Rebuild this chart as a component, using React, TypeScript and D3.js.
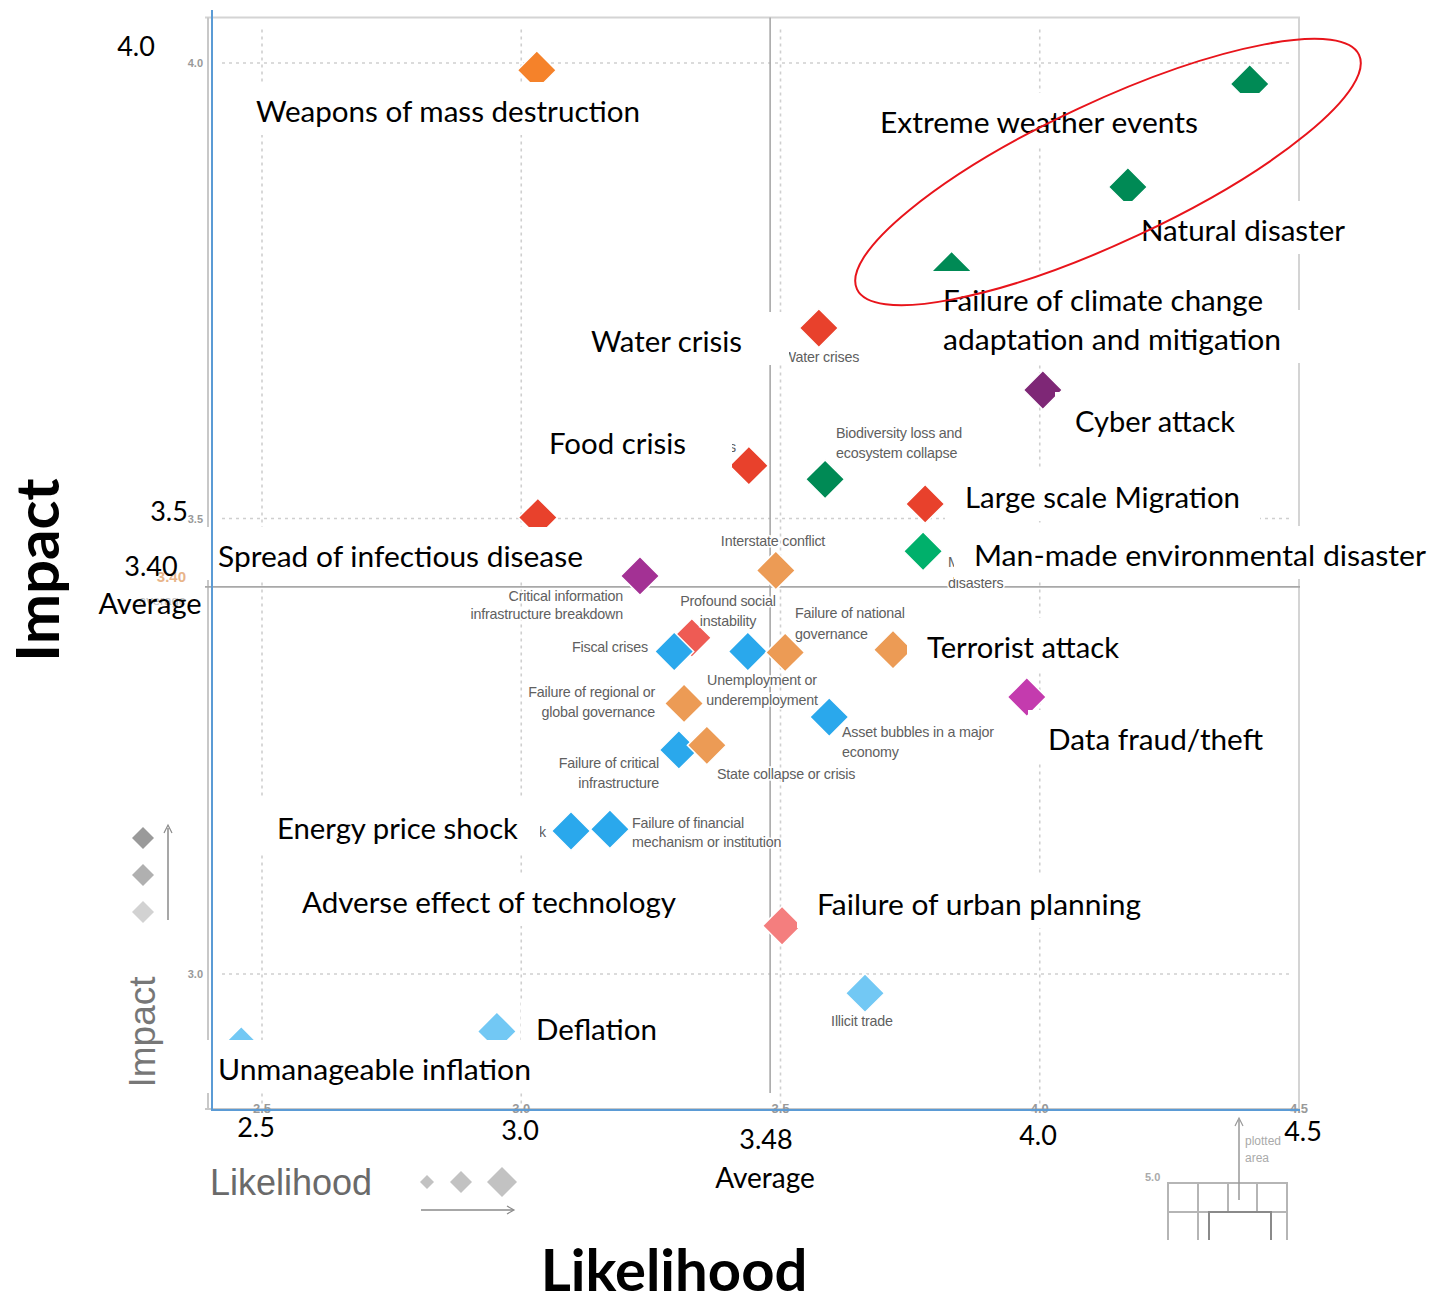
import React from "react";
import * as d3 from "d3";

// ---------- DATA ----------
const riskNames = [
  "Weapons of mass destruction", "Extreme weather events", "Natural disasters",
  "Failure of climate-change mitigation and adaptation", "Water crises", "Cyber attacks",
  "Food crises", "Biodiversity loss and ecosystem collapse", "Large-scale involuntary migration",
  "Spread of infectious diseases", "Man-made environmental disasters", "Interstate conflict",
  "Critical information infrastructure breakdown", "Profound social instability", "Fiscal crises",
  "Unemployment or underemployment", "Failure of national governance", "Terrorist attacks",
  "Data fraud or theft", "Failure of regional or global governance", "Asset bubbles in a major economy",
  "Failure of critical infrastructure", "State collapse or crisis", "Energy price shock",
  "Failure of financial mechanism or institution", "Adverse consequences of technological advances",
  "Failure of urban planning", "Illicit trade", "Deflation", "Unmanageable inflation",
];
const likelihood = [
  3.03, 4.405, 4.17, 3.83, 3.574, 4.006, 3.439, 3.586, 3.779, 3.032, 3.775, 3.491, 3.229, 3.329, 3.295,
  3.437, 3.509, 3.717, 3.975, 3.314, 3.594, 3.304, 3.358, 3.096, 3.171, 3.327, 3.503, 3.663, 2.953, 2.46,
];
const impact = [
  3.992, 3.977, 3.864, 3.772, 3.709, 3.641, 3.558, 3.543, 3.516, 3.501, 3.464, 3.443, 3.437, 3.369, 3.354,
  3.354, 3.353, 3.356, 3.304, 3.297, 3.282, 3.246, 3.251, 3.157, 3.159, 3.08, 3.053, 2.979, 2.937, 2.921,
];
const riskGroup = [
  "geoA", "env", "env", "env", "soc", "techA", "soc", "env", "soc", "soc", "envB", "geo", "techB", "socB", "eco",
  "eco", "geo", "geo", "techC", "geo", "eco", "eco", "geo", "eco", "eco", "techC", "socC", "ecoB", "ecoB", "ecoB",
];
const groupColors: Record<string, string> = {
  geoA: "#F5822A", geo: "#EC9B55", env: "#008A55", envB: "#00B06B", soc: "#E8412C", socB: "#EE5B54",
  socC: "#F47E7E", techA: "#7E2776", techB: "#A33194", techC: "#C43BAE", eco: "#2AA8EC", ecoB: "#72C8F4",
};
const gridTicks = [2.5, 3.0, 3.5, 4.0, 4.5];
const impactTicks = [3.0, 3.5, 4.0];
const avgLikelihood = 3.48;
const avgImpactLine = 3.425;
const xTickLabels = ["2.5", "3.0", "3.48", "4.0", "4.5"];
const yTickLabels = ["4.0", "3.5", "3.40", "3.0"];

// original chart's small grey captions (layout)
const smallCaptions: [string, number, number, string][] = [
  ["Water crises", 821, 362, "middle"],
  ["Food crises", 736, 452, "end"],
  ["Biodiversity loss and", 836, 438, "start"],
  ["ecosystem collapse", 836, 458, "start"],
  ["Man-made environmental", 948, 567, "start"],
  ["disasters", 948, 588, "start"],
  ["Interstate conflict", 773, 546, "middle"],
  ["Critical information", 623, 601, "end"],
  ["infrastructure breakdown", 623, 619, "end"],
  ["Profound social", 728, 606, "middle"],
  ["instability", 728, 626, "middle"],
  ["Failure of national", 795, 618, "start"],
  ["governance", 795, 639, "start"],
  ["Fiscal crises", 648, 652, "end"],
  ["Unemployment or", 762, 685, "middle"],
  ["underemployment", 762, 705, "middle"],
  ["Failure of regional or", 655, 697, "end"],
  ["global governance", 655, 717, "end"],
  ["Asset bubbles in a major", 842, 737, "start"],
  ["economy", 842, 757, "start"],
  ["Failure of critical", 659, 768, "end"],
  ["infrastructure", 659, 788, "end"],
  ["State collapse or crisis", 717, 779, "start"],
  ["Energy price shock", 546, 837, "end"],
  ["Failure of financial", 632, 828, "start"],
  ["mechanism or institution", 632, 847, "start"],
  ["Illicit trade", 862, 1026, "middle"],
];

// overlay labels: text, left, baseline, width, padLeft, padRight
const overlayLabels: [string, number, number, number, number, number][] = [
  ["Weapons of mass destruction", 256, 122, 384, 20, 20],
  ["Extreme weather events", 880, 133, 318, 20, 85],
  ["Natural disaster", 1141, 241, 204, 20, 20],
  ["Failure of climate change", 943, 311, 320, 20, 20],
  ["adaptation and mitigation", 943, 350, 338, 20, 20],
  ["Water crisis", 591, 352, 151, 20, 47],
  ["Cyber attack", 1075, 432, 160, 20, 20],
  ["Food crisis", 549, 454, 137, 20, 46],
  ["Large scale Migration", 965, 508, 275, 20, 20],
  ["Spread of infectious disease", 218, 567, 365, 20, 20],
  ["Man-made environmental disaster", 974, 566, 452, 20, 5],
  ["Terrorist attack", 927, 658, 192, 20, 20],
  ["Data fraud/theft", 1048, 750, 215, 20, 20],
  ["Energy price shock", 277, 839, 241, 20, 22],
  ["Adverse effect of technology", 302, 913, 374, 20, 40],
  ["Failure of urban planning", 817, 915, 324, 20, 20],
  ["Deflation", 536, 1040, 121, 15, 20],
  ["Unmanageable inflation", 218, 1080, 313, 20, 20],
];

const W = 1431;
const H = 1299;
const FONT_LABEL = "Lato, 'Open Sans', sans-serif";
const FONT_SMALL = "'Liberation Sans', Arial, sans-serif";

export default function App() {
  const x = d3.scaleLinear().domain([2.5, 4.5]).range([262, 1299]);
  const y = d3.scaleLinear().domain([3.0, 4.0]).range([974, 63]);
  const top = y(4.05);
  const bottom = y(2.853);
  const diamond = d3.symbol().type(d3.symbolSquare).size(760);
  const dPath = diamond() as string;

  const points = riskNames.map((n, i) => ({
    name: n,
    cx: x(likelihood[i]),
    cy: y(impact[i]),
    color: groupColors[riskGroup[i]],
  }));

  const grey = "#8a8a8a";

  return (
    <svg width={W} height={H} style={{ position: "absolute", left: 0, top: 0, background: "#fff" }}>
      <rect width={W} height={H} fill="#fff" />
      {/* plot frame */}
      <line x1={205} x2={1300} y1={top} y2={top} stroke="#d4d4d4" strokeWidth={2} />
      <line x1={x(4.5)} x2={x(4.5)} y1={top} y2={bottom} stroke="#d4d4d4" strokeWidth={2} />
      <line x1={208} x2={208} y1={top} y2={bottom} stroke="#c8c8c8" strokeWidth={2} />
      <line x1={205} x2={1300} y1={bottom + 1} y2={bottom + 1} stroke="#c8c8c8" strokeWidth={2} />
      {/* grid */}
      {gridTicks.slice(0, 4).map((t) => (
        <line key={"gx" + t} x1={x(t)} x2={x(t)} y1={top + 12} y2={bottom - 4} stroke="#cfcfcf"
          strokeWidth={1.6} strokeDasharray="3,4" />
      ))}
      {impactTicks.map((t) => (
        <line key={"gy" + t} x1={222} x2={1290} y1={y(t)} y2={y(t)} stroke="#cfcfcf"
          strokeWidth={1.6} strokeDasharray="3,4" />
      ))}
      {/* averages */}
      <line x1={x(avgLikelihood)} x2={x(avgLikelihood)} y1={top} y2={bottom - 15} stroke="#a8a8a8" strokeWidth={1.6} />
      <line x1={205} x2={1300} y1={y(avgImpactLine)} y2={y(avgImpactLine)} stroke="#a8a8a8" strokeWidth={1.6} />
      {/* small tick labels of the original chart */}
      {impactTicks.map((t) => (
        <text key={"ty" + t} x={203} y={y(t) + 4} textAnchor="end" fontFamily={FONT_SMALL} fontSize={11}
          fontWeight="bold" fill="#999">{t.toFixed(1)}</text>
      ))}
      <text x={186} y={y(avgImpactLine) - 5} textAnchor="end" fontFamily={FONT_SMALL} fontSize={15}
        fontWeight="bold" fill="#e3a26c" opacity={0.8}>3.40</text>
      <text x={186} y={y(avgImpactLine) + 18} textAnchor="end" fontFamily={FONT_SMALL} fontSize={13}
        fill="#c0c0c0">average</text>
      {gridTicks.map((t) => (
        <text key={"tx" + t} x={x(t)} y={bottom + 5} textAnchor="middle" fontFamily={FONT_SMALL} fontSize={13}
          fontWeight="bold" fill="#999">{t.toFixed(1)}</text>
      ))}
      {/* points */}
      {points.map((p) => (
        <path key={p.name} d={dPath} transform={`translate(${p.cx},${p.cy}) rotate(45)`} fill={p.color}
          stroke="#fff" strokeWidth={1.5} />
      ))}
      {/* small captions */}
      {smallCaptions.map(([t, tx, ty, a], i) => (
        <text key={"sc" + i} x={tx} y={ty} textAnchor={a as any} fontFamily={FONT_SMALL} fontSize={14.3}
          letterSpacing={-0.2} fill="#606060" stroke="#fff" strokeWidth={3} paintOrder="stroke">{t}</text>
      ))}
      {/* original chart legends */}
      <text x={210} y={1195} fontFamily={FONT_SMALL} fontSize={36} fill="#6a6a6a">Likelihood</text>
      {[[427, 7], [461, 11], [502, 15]].map(([cx, r], i) => (
        <path key={"lx" + i} d={`M${cx},${1182 - r}L${cx + r},1182L${cx},${1182 + r}L${cx - r},1182Z`} fill="#c2c2c2" />
      ))}
      <line x1={421} x2={513} y1={1210} y2={1210} stroke={grey} strokeWidth={1.5} />
      <path d="M507,1206L514,1210L507,1214" fill="none" stroke={grey} strokeWidth={1.2} />
      <text transform="translate(155,1032) rotate(-90)" textAnchor="middle" fontFamily={FONT_SMALL} fontSize={37}
        fill="#777">Impact</text>
      {[[838, "#9a9a9a"], [875, "#b0b0b0"], [912, "#d2d2d2"]].map(([cy, c], i) => (
        <path key={"ly" + i} d={`M143,${(cy as number) - 11}L154,${cy}L143,${(cy as number) + 11}L132,${cy}Z`} fill={c as string} />
      ))}
      <line x1={168} x2={168} y1={920} y2={828} stroke={grey} strokeWidth={1.5} />
      <path d="M164,833L168,825L172,833" fill="none" stroke={grey} strokeWidth={1.2} />
      {/* inset */}
      <g stroke="#b5b5b5" strokeWidth={2} fill="none">
        <path d="M1168,1240V1183H1287V1240" />
        <line x1={1198} x2={1198} y1={1183} y2={1240} />
        <line x1={1228} x2={1228} y1={1183} y2={1212} />
        <line x1={1257} x2={1257} y1={1183} y2={1240} />
        <line x1={1168} x2={1287} y1={1212} y2={1212} />
      </g>
      <path d="M1209,1240V1212H1271V1240" fill="#fff" stroke="#8a8a8a" strokeWidth={2} />
      <line x1={1239} x2={1239} y1={1200} y2={1120} stroke="#999" strokeWidth={1.5} />
      <path d="M1235,1126L1239,1118L1243,1126" fill="none" stroke="#999" strokeWidth={1.2} />
      <text x={1245} y={1145} fontFamily={FONT_SMALL} fontSize={12} fill="#aaa">plotted</text>
      <text x={1245} y={1162} fontFamily={FONT_SMALL} fontSize={12} fill="#aaa">area</text>
      <text x={1145} y={1181} fontFamily={FONT_SMALL} fontSize={11} fontWeight="bold" fill="#aaa">5.0</text>
      {/* overlay label boxes */}
      {overlayLabels.map(([t, lx, by, w, pl, pr], i) => (
        <rect key={"ol" + i} x={lx - pl} y={by - 40} width={w + pl + pr} height={53} fill="#fff" />
      ))}
      {overlayLabels.map(([t, lx, by, w], i) => (
        <text key={"olt" + i} x={lx} y={by} fontFamily={FONT_LABEL} fontSize={28} fill="#000"
          textLength={w} lengthAdjust="spacingAndGlyphs">{t}</text>
      ))}
      {/* blue axes of the overlay */}
      <line x1={212} x2={212} y1={10} y2={1111} stroke="#5B9BD5" strokeWidth={2} />
      <line x1={212} x2={1300} y1={1110} y2={1110} stroke="#5B9BD5" strokeWidth={2} />
      {/* overlay axis labels */}
      <text x={136} y={56} textAnchor="middle" fontFamily={FONT_LABEL} fontSize={27}>{yTickLabels[0]}</text>
      <text x={169} y={521} textAnchor="middle" fontFamily={FONT_LABEL} fontSize={27}>{yTickLabels[1]}</text>
      <text x={151} y={576} textAnchor="middle" fontFamily={FONT_LABEL} fontSize={27}>{yTickLabels[2]}</text>
      <text x={150} y={614} textAnchor="middle" fontFamily={FONT_LABEL} fontSize={29}>Average</text>
      <text x={256} y={1137} textAnchor="middle" fontFamily={FONT_LABEL} fontSize={27}>{xTickLabels[0]}</text>
      <text x={520} y={1140} textAnchor="middle" fontFamily={FONT_LABEL} fontSize={27}>{xTickLabels[1]}</text>
      <text x={766} y={1149} textAnchor="middle" fontFamily={FONT_LABEL} fontSize={27}>{xTickLabels[2]}</text>
      <text x={765} y={1188} textAnchor="middle" fontFamily={FONT_LABEL} fontSize={28}>Average</text>
      <text x={1038} y={1145} textAnchor="middle" fontFamily={FONT_LABEL} fontSize={27}>{xTickLabels[3]}</text>
      <text x={1303} y={1141} textAnchor="middle" fontFamily={FONT_LABEL} fontSize={27}>{xTickLabels[4]}</text>
      {/* big axis titles */}
      <text x={674} y={1291} textAnchor="middle" fontFamily={FONT_LABEL} fontSize={58} fontWeight="bold">Likelihood</text>
      <text transform="translate(59,570) rotate(-90)" textAnchor="middle" fontFamily={FONT_LABEL} fontSize={60}
        fontWeight="bold">Impact</text>
      {/* highlight ellipse */}
      <ellipse cx={1108} cy={172} rx={277} ry={70} transform="rotate(-25 1108 172)" fill="none" stroke="#E8141B"
        strokeWidth={2} />
    </svg>
  );
}
